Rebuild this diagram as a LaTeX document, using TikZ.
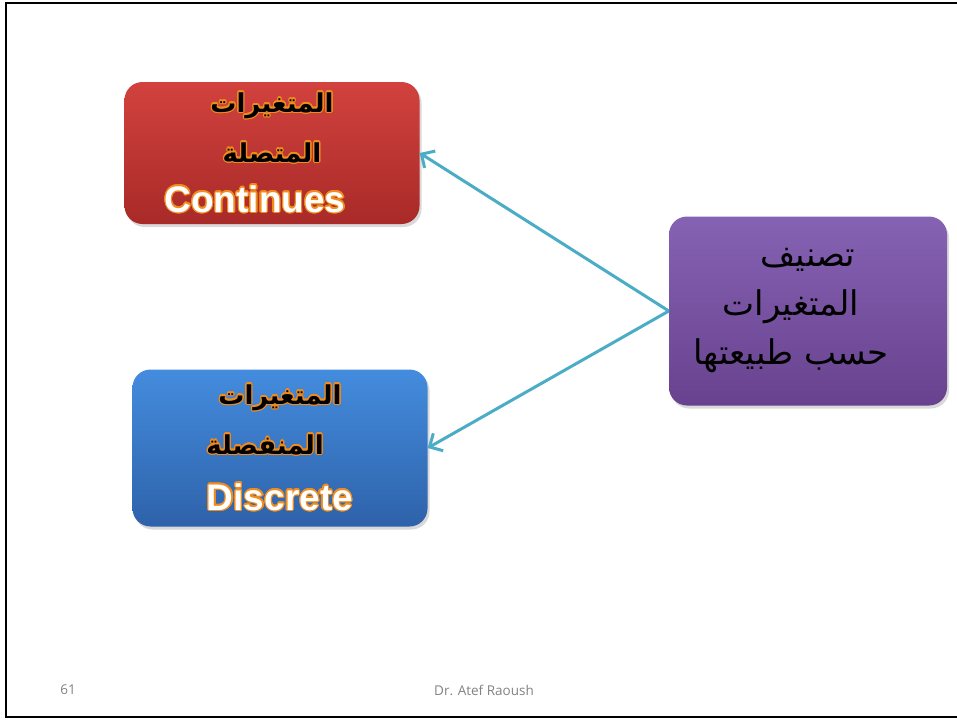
\documentclass[tikz,border=0pt]{standalone}
\usepackage{fontspec}
\setmainfont{Liberation Sans}
\newfontfamily\arabicfont[Script=Arabic]{DejaVu Sans}
\newfontfamily\footfont{Open Sans}
\usepackage{contour}
\contourlength{1.2pt}
\contournumber{16}
\TeXXeTstate=1
\usetikzlibrary{positioning, arrows.meta, shadows}

\definecolor{redtop}{RGB}{210,66,62}
\definecolor{redbot}{RGB}{168,42,40}
\definecolor{bluetop}{RGB}{68,140,222}
\definecolor{bluebot}{RGB}{46,98,170}
\definecolor{purptop}{RGB}{134,98,180}
\definecolor{purpbot}{RGB}{104,66,142}
\definecolor{linkcol}{RGB}{75,172,198}
\definecolor{glowcol}{RGB}{240,140,30}
\definecolor{footgray}{RGB}{130,130,130}

\newcommand{\arline}[1]{{\arabicfont\beginR #1\endR}}
\newcommand{\glowar}[1]{\contour{glowcol}{\arabicfont\bfseries\beginR #1\endR}}
\newcommand{\glowen}[1]{{\color{white}\contour{glowcol}{\bfseries #1}}}
\newcommand{\padr}[1]{\hbox to #1{}}

\begin{document}
\begin{tikzpicture}[
  x=1pt, y=-1pt,
  box/.style={rounded corners=18pt, minimum width=295pt, align=center, inner sep=0pt,
    drop shadow={opacity=0.3, shadow xshift=2pt, shadow yshift=-3pt}},
  link/.style={-{Straight Barb[length=10pt, width=20pt]}, line width=3pt, linkcol},
  foot/.style={font=\footfont\fontsize{13.5}{15}\selectfont, text=footgray}
]
  \useasboundingbox (0,0) rectangle (957,720);
  % slide frame
  \draw[line width=2pt] (960,3) -- (6,3) -- (6,717) -- (960,717);

  % Boxes
  \node[box, minimum height=142pt, top color=redtop, bottom color=redbot,
    font=\fontsize{26}{50}\selectfont] (cont) at (272,153)
    {\glowar{المتغيرات}\\ \glowar{المتصلة}\\ \glowen{\fontsize{37}{40}\selectfont Continues}\padr{34pt}};
  \node[box, minimum height=157pt, top color=bluetop, bottom color=bluebot,
    font=\fontsize{26}{50}\selectfont] (disc) at (280,448)
    {\glowar{المتغيرات}\\ \glowar{المنفصلة}\padr{30pt}\\[6pt] \glowen{\fontsize{37}{40}\selectfont Discrete}};
  \node[box, minimum width=278pt, minimum height=189pt, top color=purptop, bottom color=purpbot,
    font=\fontsize{34}{49}\selectfont] (cls) at (808,311)
    {\arline{تصنيف}\\ \arline{المتغيرات}\padr{34pt}\\ \arline{حسب طبيعتها}\padr{34pt}};

  % Edges
  \draw[link] (cls.west) -- (cont.east);
  \draw[link] (cls.west) -- (disc.east);

  % Footer
  \node[foot] (num) at (68,690) {61};
  \node[foot] (auth) at (484,690) {Dr. Atef Raoush};
\end{tikzpicture}
\end{document}
